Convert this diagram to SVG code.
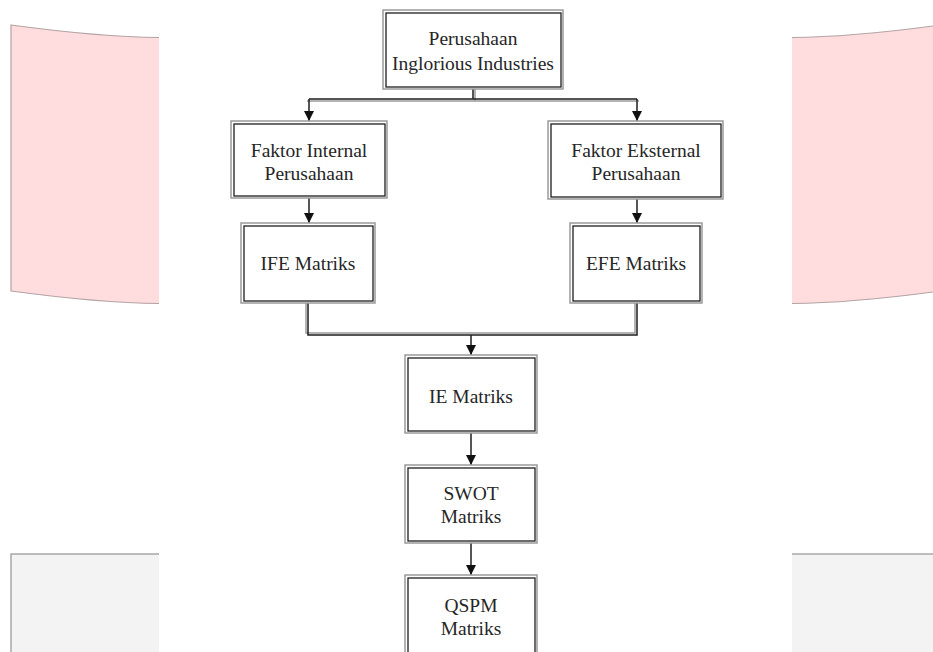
<svg xmlns="http://www.w3.org/2000/svg" width="933" height="652" viewBox="0 0 933 652">
<style>
.bg{fill:#ffffff}
.pink{fill:#ffdcdd;stroke:none}
.pedge{fill:none;stroke:#b3a3a4;stroke-width:1.2}
.grey{fill:#f3f3f3;stroke:none}
.gedge{fill:none;stroke:#a8a8a8;stroke-width:1.5}
.outer{fill:#ffffff;stroke:#9a9a9a;stroke-width:1.5}
.inner{fill:none;stroke:#1e1e1e;stroke-width:1.3}
text{font-family:'Liberation Serif','Times New Roman',serif;font-size:19.5px;fill:#262626;text-anchor:middle}
.cg{fill:none;stroke:#9a9a9a;stroke-width:1.5}
.cb{fill:none;stroke:#1e1e1e;stroke-width:1.5}
</style>
<defs>
<marker id="arr" viewBox="0 0 10 10" refX="10" refY="5" markerWidth="11" markerHeight="10" markerUnits="userSpaceOnUse" orient="auto">
<path d="M0,0 L10,5 L0,10 Z" fill="#111111"/>
</marker>
</defs>
<rect class="bg" x="0" y="0" width="933" height="652"/>
<g id="decor">
<path class="pink" d="M11,25 Q100,37 159,37.5 L159,303.5 Q100,303 11,291 Z"/>
<path class="pedge" d="M159,37.5 Q100,37 11,25 L11,291 Q100,303 159,303.5"/>
<path class="pink" d="M792,37.5 Q851,37 933,26 L933,292 Q851,303 792,303.5 Z"/>
<path class="pedge" d="M792,37.5 Q851,37 933,26 M933,292 Q851,303 792,303.5"/>
<rect class="grey" x="11" y="554" width="148" height="98"/>
<path class="gedge" d="M11,652 L11,554 L159,554"/>
<rect class="grey" x="792" y="554" width="141" height="98"/>
<path class="gedge" d="M792,554 L933,554"/>
</g>
<g id="connectors">
<path class="cg" d="M475,89 L475,101 M307,101 L639,101"/>
<path class="cb" d="M473,89 L473,99 M309,99 L637,99"/>
<path class="cb" d="M309,99 L309,121" marker-end="url(#arr)"/>
<path class="cb" d="M637,99 L637,121" marker-end="url(#arr)"/>
<path class="cb" d="M309,198 L309,223" marker-end="url(#arr)"/>
<path class="cb" d="M637,199 L637,223" marker-end="url(#arr)"/>
<path class="cg" d="M306,303 L306,333 L635,333 L635,303"/>
<path class="cb" d="M308,303 L308,335 L637,335 L637,303"/>
<path class="cb" d="M471,335 L471,355" marker-end="url(#arr)"/>
<path class="cb" d="M471,433 L471,465" marker-end="url(#arr)"/>
<path class="cb" d="M471,543 L471,575" marker-end="url(#arr)"/>
</g>
<g id="n_perusahaan">
<rect class="outer" x="383" y="10" width="180" height="79"/>
<rect class="inner" x="386" y="13" width="175" height="74"/>
<text x="473" y="45" font-family="Liberation Serif, serif">Perusahaan</text>
<text x="473" y="70" font-family="Liberation Serif, serif">Inglorious Industries</text>
</g>
<g id="n_internal">
<rect class="outer" x="231" y="121" width="156" height="77"/>
<rect class="inner" x="234" y="124" width="151" height="72"/>
<text x="309" y="157" font-family="Liberation Serif, serif">Faktor Internal</text>
<text x="309" y="180" font-family="Liberation Serif, serif">Perusahaan</text>
</g>
<g id="n_eksternal">
<rect class="outer" x="548" y="121" width="175" height="78"/>
<rect class="inner" x="551" y="124" width="170" height="73"/>
<text x="636" y="157" font-family="Liberation Serif, serif">Faktor Eksternal</text>
<text x="636" y="180" font-family="Liberation Serif, serif">Perusahaan</text>
</g>
<g id="n_ife">
<rect class="outer" x="241" y="223" width="134" height="80"/>
<rect class="inner" x="244" y="226" width="129" height="75"/>
<text x="308" y="270" font-family="Liberation Serif, serif">IFE Matriks</text>
</g>
<g id="n_efe">
<rect class="outer" x="570" y="223" width="132" height="80"/>
<rect class="inner" x="573" y="226" width="127" height="75"/>
<text x="636" y="270" font-family="Liberation Serif, serif">EFE Matriks</text>
</g>
<g id="n_ie">
<rect class="outer" x="405" y="355" width="132" height="78"/>
<rect class="inner" x="408" y="358" width="127" height="73"/>
<text x="471" y="403" font-family="Liberation Serif, serif">IE Matriks</text>
</g>
<g id="n_swot">
<rect class="outer" x="405" y="465" width="132" height="78"/>
<rect class="inner" x="408" y="468" width="127" height="73"/>
<text x="471" y="500" font-family="Liberation Serif, serif">SWOT</text>
<text x="471" y="523" font-family="Liberation Serif, serif">Matriks</text>
</g>
<g id="n_qspm">
<rect class="outer" x="405" y="575" width="132" height="90"/>
<rect class="inner" x="408" y="578" width="127" height="85"/>
<text x="471" y="612" font-family="Liberation Serif, serif">QSPM</text>
<text x="471" y="635" font-family="Liberation Serif, serif">Matriks</text>
</g>
</svg>
